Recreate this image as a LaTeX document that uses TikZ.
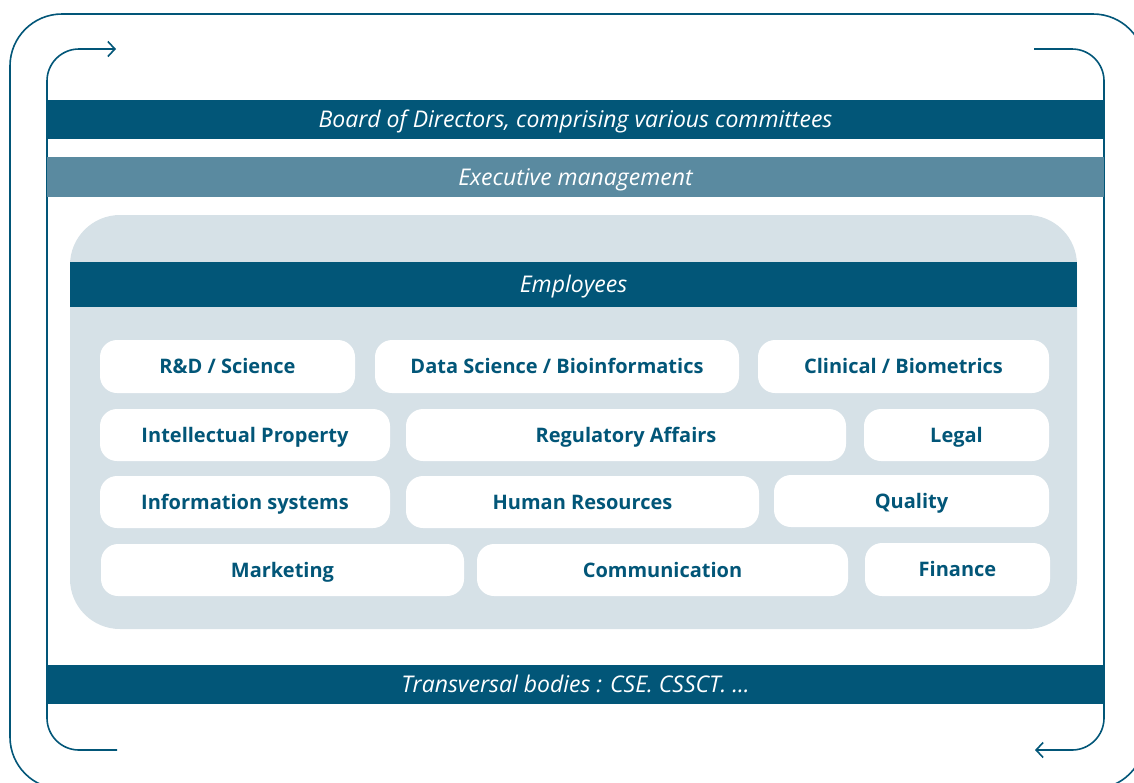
\documentclass[tikz,border=0pt]{standalone}
\usepackage{fontspec}
\setmainfont{Open Sans}
\usetikzlibrary{arrows.meta}
\definecolor{dteal}{RGB}{2,86,120}
\definecolor{mteal}{RGB}{90,138,160}
\definecolor{lgray}{RGB}{214,225,231}
\tikzset{
  frameline/.style={draw=dteal, line width=1.6pt},
  barbox/.style={fill=dteal, inner sep=0pt, text=white, text height=16.4pt, text depth=0pt, font=\fontsize{23}{27}\selectfont\itshape},
  cell/.style={fill=white, rounded corners=17pt, inner sep=0pt, text=dteal, text height=14.3pt, text depth=0pt, font=\fontsize{20}{24}\selectfont\bfseries},
  tip/.style={-{Straight Barb[length=7pt,width=15pt,line width=1.6pt]}}
}
\begin{document}
\begin{tikzpicture}[x=1pt,y=-1pt]
\useasboundingbox (0,0) rectangle (1134,782);
\clip (0,0) rectangle (1134,782);
% outer frame
\draw[frameline, rounded corners=52pt] (10,400) -- (10,789) -- (1145,789) -- (1145,14) -- (10,14) -- cycle;
% inner frame pieces
\draw[frameline, tip, rounded corners=32pt] (117,750) -- (47,750) -- (47,49) -- (116,49);
\draw[frameline, tip, rounded corners=32pt] (1034,49) -- (1104,49) -- (1104,750) -- (1035,750);
% bars
\node[barbox, minimum width=1057, minimum height=39] (board) at (575.5,119.5) {Board of Directors, comprising various committees};
\node[barbox, fill=mteal, minimum width=1057, minimum height=40] (exec) at (575.5,177) {Executive management};
% gray area
\node[fill=lgray, rounded corners=50pt, minimum width=1007, minimum height=414, inner sep=0pt] (area) at (573.5,422) {};
\node[barbox, minimum width=1007, minimum height=45] (emp) at (573.5,284.5) {Employees};
\node[barbox, minimum width=1057, minimum height=39] (trans) at (575.5,684.5) {Transversal bodies : CSE. CSSCT. ...};
% cells
\node[cell, minimum width=255, minimum height=53] (rd) at (227.5,366.5) {R\&D / Science};
\node[cell, minimum width=364, minimum height=53] (ds) at (557,366.5) {Data Science / Bioinformatics};
\node[cell, minimum width=291, minimum height=53] (cb) at (903.5,366.5) {Clinical / Biometrics};
\node[cell, minimum width=290, minimum height=52] (ip) at (245,435) {Intellectual Property};
\node[cell, minimum width=440, minimum height=52] (ra) at (626,435) {Regulatory Affairs};
\node[cell, minimum width=185, minimum height=52] (lg) at (956.5,435) {Legal};
\node[cell, minimum width=290, minimum height=52] (is) at (245,502) {Information systems};
\node[cell, minimum width=353, minimum height=52] (hr) at (582.5,502) {Human Resources};
\node[cell, minimum width=275, minimum height=52] (ql) at (911.5,501) {Quality};
\node[cell, minimum width=363, minimum height=52] (mk) at (282.5,570) {Marketing};
\node[cell, minimum width=371, minimum height=52] (cm) at (662.5,570) {Communication};
\node[cell, minimum width=185, minimum height=53] (fn) at (957.5,569.5) {Finance};
\end{tikzpicture}
\end{document}
